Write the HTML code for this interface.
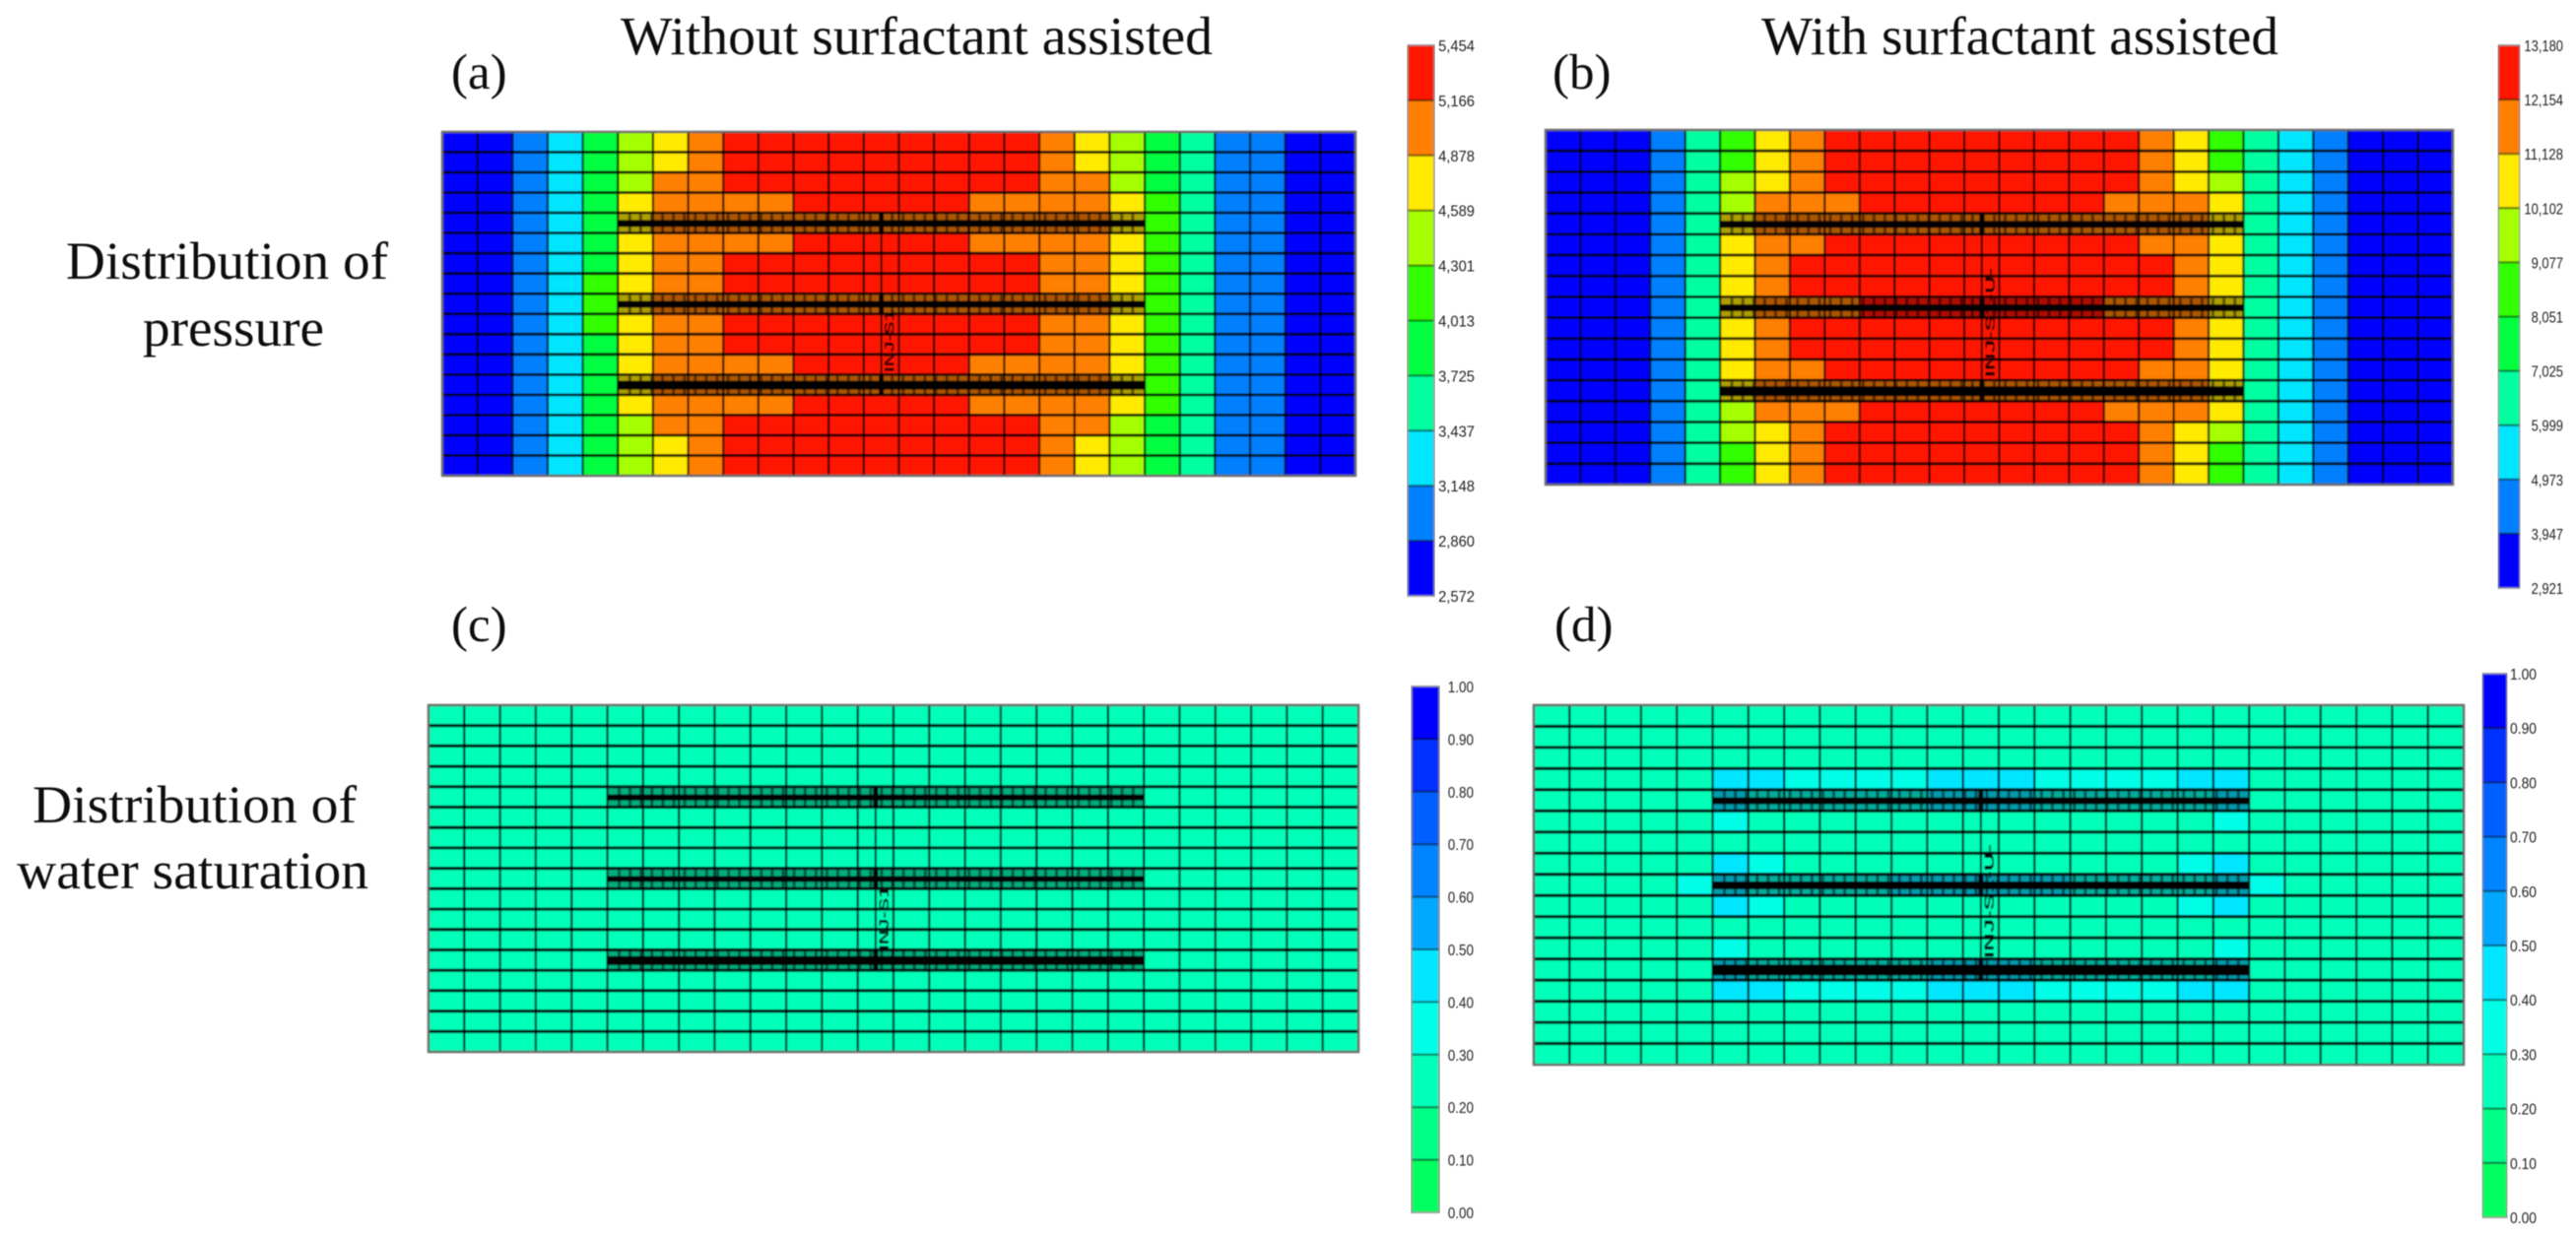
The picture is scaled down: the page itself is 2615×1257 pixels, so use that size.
<!DOCTYPE html>
<html lang="en">
<head>
<meta charset="utf-8">
<title>Distribution of pressure and water saturation</title>
<style>
html,body{margin:0;padding:0;background:#fff;}
svg{display:block;}
.title{font-family:"Liberation Serif",serif;fill:#111;}
.tick{font-family:"Liberation Sans",sans-serif;font-size:16px;fill:#222;}
.welltag{font-family:"Liberation Sans",sans-serif;font-size:14px;font-weight:bold;fill:#000;}
</style>
</head>
<body>
<svg id="figure" xmlns="http://www.w3.org/2000/svg" width="2615" height="1257" viewBox="0 0 2615 1257">
  <defs>
    <filter id="soft" x="-2%" y="-2%" width="104%" height="104%"><feGaussianBlur stdDeviation="0.7"/></filter>
    <filter id="softer" x="-5%" y="-20%" width="110%" height="140%"><feGaussianBlur stdDeviation="0.45"/></filter>
    <filter id="labelblur" x="-10%" y="-30%" width="120%" height="160%"><feGaussianBlur stdDeviation="0.6"/></filter>
  </defs>
  <rect width="2615" height="1257" fill="#fff"/>
  <g filter="url(#softer)">
    <text class="title" x="630" y="55" font-size="55" textLength="601" lengthAdjust="spacingAndGlyphs">Without surfactant assisted</text>
    <text class="title" x="1788" y="55" font-size="55" textLength="525" lengthAdjust="spacingAndGlyphs">With surfactant assisted</text>
    <text class="title" x="458" y="90" font-size="51">(a)</text>
    <text class="title" x="1576" y="90" font-size="51">(b)</text>
    <text class="title" x="458" y="651" font-size="51">(c)</text>
    <text class="title" x="1578" y="651" font-size="51">(d)</text>
    <text class="title" x="67" y="283" font-size="54" textLength="327" lengthAdjust="spacingAndGlyphs">Distribution of</text>
    <text class="title" x="145" y="351" font-size="54" textLength="184" lengthAdjust="spacingAndGlyphs">pressure</text>
    <text class="title" x="33" y="835" font-size="54" textLength="329" lengthAdjust="spacingAndGlyphs">Distribution of</text>
    <text class="title" x="17" y="902" font-size="54" textLength="357" lengthAdjust="spacingAndGlyphs">water saturation</text>
  </g>
  <g id="panels"></g>
</svg>
<script>
// Colour-band index of every grid cell (rows top to bottom)
const pressureLevelsA = [
[0,0,1,2,4,6,7,8,9,9,9,9,9,9,9,9,9,8,7,6,4,3,1,1,0,0],
[0,0,1,2,4,6,7,8,9,9,9,9,9,9,9,9,9,8,7,6,4,3,1,1,0,0],
[0,0,1,2,4,6,8,8,9,9,9,9,9,9,9,9,9,8,8,6,4,3,1,1,0,0],
[0,0,1,2,4,7,8,8,8,8,9,9,9,9,9,8,8,8,8,7,5,3,1,1,0,0],
[0,0,1,2,4,7,8,8,8,8,8,8,8,8,8,8,8,8,8,7,5,3,1,1,0,0],
[0,0,1,2,4,7,8,8,8,8,9,9,9,9,9,8,8,8,8,7,5,3,1,1,0,0],
[0,0,1,2,4,7,8,8,9,9,9,9,9,9,9,9,9,8,8,7,5,3,1,1,0,0],
[0,0,1,2,5,7,8,8,9,9,9,9,9,9,9,9,9,8,8,7,5,3,1,1,0,0],
[0,0,1,2,5,7,8,8,8,8,8,8,8,8,8,8,8,8,8,7,5,3,1,1,0,0],
[0,0,1,2,5,7,8,8,9,9,9,9,9,9,9,9,9,8,8,7,5,3,1,1,0,0],
[0,0,1,2,4,7,8,8,9,9,9,9,9,9,9,9,9,8,8,7,5,3,1,1,0,0],
[0,0,1,2,4,7,8,8,8,8,9,9,9,9,9,8,8,8,8,7,5,3,1,1,0,0],
[0,0,1,2,4,7,8,8,8,8,8,8,8,8,8,8,8,8,8,7,5,3,1,1,0,0],
[0,0,1,2,4,7,8,8,8,8,9,9,9,9,9,8,8,8,8,7,5,3,1,1,0,0],
[0,0,1,2,4,6,8,8,9,9,9,9,9,9,9,9,9,8,8,6,4,3,1,1,0,0],
[0,0,1,2,4,6,7,8,9,9,9,9,9,9,9,9,9,8,7,6,4,3,1,1,0,0],
[0,0,1,2,4,6,7,8,9,9,9,9,9,9,9,9,9,8,7,6,4,3,1,1,0,0]
];
const pressureLevelsB = [
[0,0,0,1,3,5,7,8,9,9,9,9,9,9,9,9,9,8,7,5,3,2,1,0,0,0],
[0,0,0,1,3,5,7,8,9,9,9,9,9,9,9,9,9,8,7,5,3,2,1,0,0,0],
[0,0,0,1,3,6,7,8,9,9,9,9,9,9,9,9,9,8,7,6,3,2,1,0,0,0],
[0,0,0,1,3,6,8,8,8,9,9,9,9,9,9,9,8,8,8,7,3,2,1,0,0,0],
[0,0,0,1,3,7,8,8,8,8,8,8,8,8,8,8,8,8,8,7,3,2,1,0,0,0],
[0,0,0,1,3,7,8,8,9,9,9,9,9,9,9,9,9,8,8,7,3,2,1,0,0,0],
[0,0,0,1,3,7,8,9,9,9,9,9,9,9,9,9,9,9,8,7,3,2,1,0,0,0],
[0,0,0,1,3,7,8,9,9,9,9,9,9,9,9,9,9,9,8,7,3,2,1,0,0,0],
[0,0,0,1,3,7,8,8,8,9,9,9,9,9,9,9,8,8,8,7,3,2,1,0,0,0],
[0,0,0,1,3,7,8,9,9,9,9,9,9,9,9,9,9,9,8,7,3,2,1,0,0,0],
[0,0,0,1,3,7,8,9,9,9,9,9,9,9,9,9,9,9,8,7,3,2,1,0,0,0],
[0,0,0,1,3,7,8,8,9,9,9,9,9,9,9,9,9,8,8,7,3,2,1,0,0,0],
[0,0,0,1,3,7,8,8,8,8,8,8,8,8,8,8,8,8,8,7,3,2,1,0,0,0],
[0,0,0,1,3,6,8,8,8,9,9,9,9,9,9,9,8,8,8,7,3,2,1,0,0,0],
[0,0,0,1,3,6,7,8,9,9,9,9,9,9,9,9,9,8,7,6,3,2,1,0,0,0],
[0,0,0,1,3,5,7,8,9,9,9,9,9,9,9,9,9,8,7,5,3,2,1,0,0,0],
[0,0,0,1,3,5,7,8,9,9,9,9,9,9,9,9,9,8,7,5,3,2,1,0,0,0]
];
const saturationLevelsC = [
[2,2,2,2,2,2,2,2,2,2,2,2,2,2,2,2,2,2,2,2,2,2,2,2,2,2],
[2,2,2,2,2,2,2,2,2,2,2,2,2,2,2,2,2,2,2,2,2,2,2,2,2,2],
[2,2,2,2,2,2,2,2,2,2,2,2,2,2,2,2,2,2,2,2,2,2,2,2,2,2],
[2,2,2,2,2,2,2,2,2,2,2,2,2,2,2,2,2,2,2,2,2,2,2,2,2,2],
[2,2,2,2,2,2,2,2,2,2,2,2,2,2,2,2,2,2,2,2,2,2,2,2,2,2],
[2,2,2,2,2,2,2,2,2,2,2,2,2,2,2,2,2,2,2,2,2,2,2,2,2,2],
[2,2,2,2,2,2,2,2,2,2,2,2,2,2,2,2,2,2,2,2,2,2,2,2,2,2],
[2,2,2,2,2,2,2,2,2,2,2,2,2,2,2,2,2,2,2,2,2,2,2,2,2,2],
[2,2,2,2,2,2,2,2,2,2,2,2,2,2,2,2,2,2,2,2,2,2,2,2,2,2],
[2,2,2,2,2,2,2,2,2,2,2,2,2,2,2,2,2,2,2,2,2,2,2,2,2,2],
[2,2,2,2,2,2,2,2,2,2,2,2,2,2,2,2,2,2,2,2,2,2,2,2,2,2],
[2,2,2,2,2,2,2,2,2,2,2,2,2,2,2,2,2,2,2,2,2,2,2,2,2,2],
[2,2,2,2,2,2,2,2,2,2,2,2,2,2,2,2,2,2,2,2,2,2,2,2,2,2],
[2,2,2,2,2,2,2,2,2,2,2,2,2,2,2,2,2,2,2,2,2,2,2,2,2,2],
[2,2,2,2,2,2,2,2,2,2,2,2,2,2,2,2,2,2,2,2,2,2,2,2,2,2],
[2,2,2,2,2,2,2,2,2,2,2,2,2,2,2,2,2,2,2,2,2,2,2,2,2,2],
[2,2,2,2,2,2,2,2,2,2,2,2,2,2,2,2,2,2,2,2,2,2,2,2,2,2]
];
const saturationLevelsD = [
[2,2,2,2,2,2,2,2,2,2,2,2,2,2,2,2,2,2,2,2,2,2,2,2,2,2],
[2,2,2,2,2,2,2,2,2,2,2,2,2,2,2,2,2,2,2,2,2,2,2,2,2,2],
[2,2,2,2,2,2,2,2,2,2,2,2,2,2,2,2,2,2,2,2,2,2,2,2,2,2],
[2,2,2,2,2,4,4,3,3,3,3,4,4,4,3,3,3,3,4,4,2,2,2,2,2,2],
[2,2,2,2,2,4,3,3,3,3,3,4,4,4,3,3,3,3,3,4,2,2,2,2,2,2],
[2,2,2,2,2,3,2,2,2,2,2,2,2,2,2,2,2,2,2,3,2,2,2,2,2,2],
[2,2,2,2,2,2,2,2,2,2,2,2,2,2,2,2,2,2,2,2,2,2,2,2,2,2],
[2,2,2,2,2,4,3,2,2,2,2,2,2,2,2,2,2,2,3,4,2,2,2,2,2,2],
[2,2,2,2,3,4,3,3,3,3,4,4,4,4,4,3,3,3,3,4,3,2,2,2,2,2],
[2,2,2,2,2,4,3,2,2,2,2,2,2,2,2,2,2,2,3,4,2,2,2,2,2,2],
[2,2,2,2,2,2,2,2,2,2,2,2,2,2,2,2,2,2,2,2,2,2,2,2,2,2],
[2,2,2,2,2,3,2,2,2,2,2,2,2,2,2,2,2,2,2,3,2,2,2,2,2,2],
[2,2,2,2,2,4,3,3,3,3,3,4,4,4,3,3,3,3,3,4,2,2,2,2,2,2],
[2,2,2,2,2,4,4,3,3,3,3,4,4,4,3,3,3,3,4,4,2,2,2,2,2,2],
[2,2,2,2,2,2,2,2,2,2,2,2,2,2,2,2,2,2,2,2,2,2,2,2,2,2],
[2,2,2,2,2,2,2,2,2,2,2,2,2,2,2,2,2,2,2,2,2,2,2,2,2,2],
[2,2,2,2,2,2,2,2,2,2,2,2,2,2,2,2,2,2,2,2,2,2,2,2,2,2]
];

// Colour-bar tick labels, top to bottom
const pressureTicksA = ["5,454","5,166","4,878","4,589","4,301","4,013","3,725","3,437","3,148","2,860","2,572"];
const pressureTicksB = ["13,180","12,154","11,128","10,102","9,077","8,051","7,025","5,999","4,973","3,947","2,921"];
const saturationTicks = ["1.00","0.90","0.80","0.70","0.60","0.50","0.40","0.30","0.20","0.10","0.00"];

// Well layout in grid rows / columns
const wellRows = [4,8,12];
const wellColumnStart = 5;
const wellColumnEnd = 20;
const wellCentreColumn = 12.5;

// Colour ramps, lowest band first
const pressureRamp = ["#0000ff","#0080ff","#00e6ff","#00ffa0","#00ff40","#33ff00","#a6ff00","#ffea00","#ff8000","#ff1400"];
const saturationRamp = ["#00ff60","#00ff88","#00ffb8","#00ffe6","#00e6ff","#00a8ff","#0084ff","#0060ff","#0030ff","#0000ff"];

const SVG_NS = "http://www.w3.org/2000/svg";
const panelsRoot = document.getElementById("panels");

function make(tag, attrs, parent) {
  const el = document.createElementNS(SVG_NS, tag);
  for (const key in attrs) el.setAttribute(key, attrs[key]);
  parent.appendChild(el);
  return el;
}

function drawPanel(cfg) {
  const rows = cfg.levels.length;
  const cols = cfg.levels[0].length;
  const xScale = function (c) { return cfg.x0 + (cfg.x1 - cfg.x0) * c / cols; };
  const yScale = function (r) { return cfg.y0 + (cfg.y1 - cfg.y0) * r / rows; };

  const group = make("g", {filter: "url(#soft)"}, panelsRoot);
  
  

  cfg.levels.forEach(function (row, r) {
    row.forEach(function (level, c) {
      const cell = make("rect", {
        x: xScale(c), y: yScale(r),
        width: xScale(c + 1) - xScale(c) + 0.3,
        height: yScale(r + 1) - yScale(r) + 0.3,
        fill: cfg.ramp[level]
      }, group);
      
      
    });
  });

  for (let c = 1; c < cols; c++) {
    const vLine = make("line", {x1: xScale(c), x2: xScale(c), y1: cfg.y0, y2: cfg.y1, stroke: "#000", "stroke-opacity": 0.85, "stroke-width": 2.2}, group);
    
    
  }
  for (let r = 1; r < rows; r++) {
    const hLine = make("line", {x1: cfg.x0, x2: cfg.x1, y1: yScale(r), y2: yScale(r), stroke: "#000", "stroke-opacity": 0.95, "stroke-width": cfg.lineWidth}, group);
    
    
  }

  const outline = make("rect", {x: cfg.x0, y: cfg.y0, width: cfg.x1 - cfg.x0, height: cfg.y1 - cfg.y0, fill: "none", stroke: "#666", "stroke-width": 2.4}, group);
  
  

  const wx0 = xScale(wellColumnStart);
  const wx1 = xScale(wellColumnEnd);
  wellRows.forEach(function (wr, i) {
    const top = yScale(wr) + 1.5;
    const bottom = yScale(wr + 1) - 0.5;
    const mid = (top + bottom) / 2 + cfg.coreShift;
    const band = make("rect", {x: wx0, y: top, width: wx1 - wx0, height: bottom - top, fill: "#000", "fill-opacity": 0.32}, group);
    
    
    for (let t = wx0 + 12; t < wx1 - 6; t += 11.1) {
      const tickMark = make("line", {x1: t, x2: t, y1: top, y2: bottom, stroke: "#000", "stroke-opacity": 0.5, "stroke-width": 3}, group);
      
      
    }
    const core = make("rect", {x: wx0, y: mid - cfg.coreWidths[i] / 2, width: wx1 - wx0, height: cfg.coreWidths[i], fill: "#000"}, group);
    
    
    const knot = make("rect", {x: xScale(wellCentreColumn) - 2.5, y: top, width: 5, height: bottom - top, fill: "#000"}, group);
    
    
  });

  const vx = xScale(wellCentreColumn);
  const stem = make("line", {x1: vx, x2: vx, y1: yScale(wellRows[0]), y2: yScale(wellRows[wellRows.length - 1] + 1), stroke: "#000", "stroke-opacity": 0.85, "stroke-width": 2}, group);
  
  

  const tag = make("text", {
    "class": "welltag", x: vx + 13, y: cfg.tagBottom,
    transform: "rotate(-90 " + (vx + 13) + " " + cfg.tagBottom + ")",
    textLength: cfg.tagLength, lengthAdjust: "spacingAndGlyphs"
  }, group);
  tag.textContent = cfg.tag;
  
  

  drawColourBar(cfg);
}

function drawColourBar(cfg) {
  const ticks = cfg.ticks;
  const bands = ticks.length - 1;
  const barScale = function (i) { return cfg.barY0 + (cfg.barY1 - cfg.barY0) * i / bands; };

  const bar = make("g", {filter: "url(#soft)"}, panelsRoot);
  
  

  for (let i = 0; i < bands; i++) {
    const swatch = make("rect", {x: cfg.barX0, y: barScale(i), width: cfg.barX1 - cfg.barX0, height: barScale(i + 1) - barScale(i), fill: cfg.ramp[bands - 1 - i]}, bar);
    
    
    if (i > 0) {
      const divider = make("line", {x1: cfg.barX0, x2: cfg.barX1, y1: barScale(i), y2: barScale(i), stroke: "#000", "stroke-opacity": 0.55, "stroke-width": 2}, bar);
      
      
    }
  }
  const frame = make("rect", {x: cfg.barX0, y: cfg.barY0, width: cfg.barX1 - cfg.barX0, height: cfg.barY1 - cfg.barY0, fill: "none", stroke: "#888", "stroke-width": 1.5}, bar);
  
  

  const labels = make("g", {filter: "url(#labelblur)"}, panelsRoot);
  
  
  ticks.forEach(function (label, i) {
    const digits = label.length;
    const w = cfg.charWidth * (digits - 1) + cfg.charWidth * 0.5;
    const t = make("text", {
      "class": "tick",
      x: cfg.labelRight - w,
      y: barScale(i) + cfg.labelDrop,
      textLength: w,
      lengthAdjust: "spacingAndGlyphs"
    }, labels);
    t.textContent = label;
    
    
  });
}

drawPanel({name: "panel-a-pressure", levels: pressureLevelsA, ramp: pressureRamp, ticks: pressureTicksA,
  x0: 449, x1: 1376, y0: 134, y1: 483, lineWidth: 2.8, coreWidths: [7, 7, 9], coreShift: 0,
  tag: "INJ-S1", tagBottom: 378, tagLength: 63,
  barX0: 1429, barX1: 1456, barY0: 46, barY1: 605, labelRight: 1497, labelDrop: 6, charWidth: 8.2});
drawPanel({name: "panel-b-pressure", levels: pressureLevelsB, ramp: pressureRamp, ticks: pressureTicksB,
  x0: 1569, x1: 2490, y0: 132, y1: 492, lineWidth: 2.8, coreWidths: [7, 7, 10], coreShift: 0,
  tag: "INJ-S1-U-", tagBottom: 383, tagLength: 111,
  barX0: 2536, barX1: 2558, barY0: 46, barY1: 597, labelRight: 2602, labelDrop: 6, charWidth: 7.2});
drawPanel({name: "panel-c-saturation", levels: saturationLevelsC, ramp: saturationRamp, ticks: saturationTicks,
  x0: 435, x1: 1379, y0: 716, y1: 1068, lineWidth: 3.2, coreWidths: [6, 6, 9], coreShift: 0,
  tag: "INJ-S1", tagBottom: 965, tagLength: 65,
  barX0: 1433, barX1: 1461, barY0: 697, barY1: 1231, labelRight: 1496, labelDrop: 6, charWidth: 7.5});
drawPanel({name: "panel-d-saturation", levels: saturationLevelsD, ramp: saturationRamp, ticks: saturationTicks,
  x0: 1557, x1: 2501, y0: 716, y1: 1081, lineWidth: 3.2, coreWidths: [7, 8, 11], coreShift: 0,
  tag: "INJ-S1-U-", tagBottom: 973, tagLength: 116,
  barX0: 2520, barX1: 2545, barY0: 684, barY1: 1236, labelRight: 2575, labelDrop: 6, charWidth: 7.7});
</script>
</body>
</html>
